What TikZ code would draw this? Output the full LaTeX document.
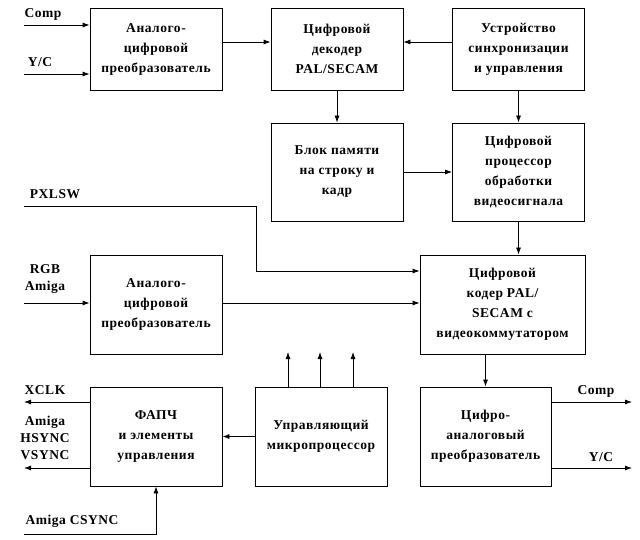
\documentclass[tikz,border=0pt]{standalone}
\usepackage{fontspec}
\setmainfont{Liberation Serif}[LetterSpace=4]
\usetikzlibrary{arrows.meta}
\begin{document}
\begin{tikzpicture}[x=1pt,y=-1pt,
  box/.style={draw, line width=0.8pt, minimum width=132pt, minimum height=82pt, align=center, inner sep=0pt, font=\fontsize{13.5}{20}\selectfont\bfseries},
  lbl/.style={inner sep=0pt, align=center, font=\fontsize{13.5}{17}\selectfont\bfseries},
  ln/.style={line width=0.8pt},
  conn/.style={line width=0.8pt, -{Latex[length=7pt,width=5pt]}}]
\useasboundingbox (0,0) rectangle (640,540);
% boxes
\node[box] (adc1) at (156,49) {Аналого-\\цифровой\\преобразователь};
\node[box] (dec) at (337,49) {Цифровой\\декодер\\PAL/SECAM};
\node[box] (sync) at (518.5,49) {Устройство\\синхронизации\\и управления};
\node[box, minimum height=98pt] (mem) at (337,172) {Блок памяти\\на строку и\\кадр};
\node[box, minimum height=98pt] (proc) at (518.5,172) {Цифровой\\процессор\\обработки\\видеосигнала};
\node[box, minimum width=165pt, minimum height=99pt] (enc) at (502.5,304.5) {Цифровой\\кодер PAL/\\SECAM с\\видеокоммутатором};
\node[box, minimum height=99pt] (adc2) at (156,304.5) {Аналого-\\цифровой\\преобразователь};
\node[box, minimum height=99pt] (pll) at (156,436.5) {ФАПЧ\\и элементы\\управления};
\node[box, minimum height=99pt] (mcu) at (321,436.5) {Управляющий\\микропроцессор};
\node[box, minimum width=131pt, minimum height=99pt] (dac) at (485.5,436.5) {Цифро-\\аналоговый\\преобразователь};
% labels
\node[lbl] (lcomp) at (43,14) {Comp};
\node[lbl] (lyc) at (40,62) {Y/C};
\node[lbl] (lpx) at (55,194) {PXLSW};
\node[lbl] (lrgb) at (45,279) {RGB\\Amiga};
\node[lbl] (lxclk) at (45,390) {XCLK};
\node[lbl] (lams) at (45,438) {Amiga\\HSYNC\\VSYNC};
\node[lbl] (lcs) at (72,521) {Amiga CSYNC};
\node[lbl] (lcomp2) at (596,391) {Comp};
\node[lbl] (lyc2) at (601,457) {Y/C};
% free ends
\coordinate (iComp) at (24,25);
\coordinate (iYC) at (24,74);
\coordinate (iPX) at (24,206);
\coordinate (iRGB) at (24,303);
\coordinate (oXCLK) at (24,402);
\coordinate (oVS) at (24,468);
\coordinate (iCS) at (24,534);
\coordinate (oComp) at (632,402);
\coordinate (oYC) at (632,468);
\coordinate (u1) at (288,352);
\coordinate (u2) at (320,352);
\coordinate (u3) at (353,352);
% connectors
\draw[conn] (iComp) -- (adc1.west |- iComp);
\draw[conn] (iYC) -- (adc1.west |- iYC);
\draw[conn] (adc1.east |- 0,42) -- (dec.west |- 0,42);
\draw[conn] (sync.west |- 0,42) -- (dec.east |- 0,42);
\draw[conn] (dec.south) -- (mem.north);
\draw[conn] (sync.south) -- (proc.north);
\draw[conn] (mem.east) -- (proc.west);
\draw[conn] (proc.south) -- (proc.south |- enc.north);
\draw[conn] (iPX) -- (256,206) -- (256,271) -- (enc.west |- 0,271);
\draw[conn] (iRGB) -- (adc2.west |- iRGB);
\draw[conn] (adc2.east |- iRGB) -- (enc.west |- iRGB);
\draw[conn] (enc.south -| dac.north) -- (dac.north);
\draw[conn] (dac.east |- oComp) -- (oComp);
\draw[conn] (dac.east |- oYC) -- (oYC);
\draw[conn] (mcu.north -| u1) -- (u1);
\draw[conn] (mcu.north -| u2) -- (u2);
\draw[conn] (mcu.north -| u3) -- (u3);
\draw[conn] (mcu.west) -- (pll.east);
\draw[conn] (pll.west |- oXCLK) -- (oXCLK);
\draw[conn] (pll.west |- oVS) -- (oVS);
\draw[conn] (iCS) -- (pll.south |- iCS) -- (pll.south);
\end{tikzpicture}
\end{document}
